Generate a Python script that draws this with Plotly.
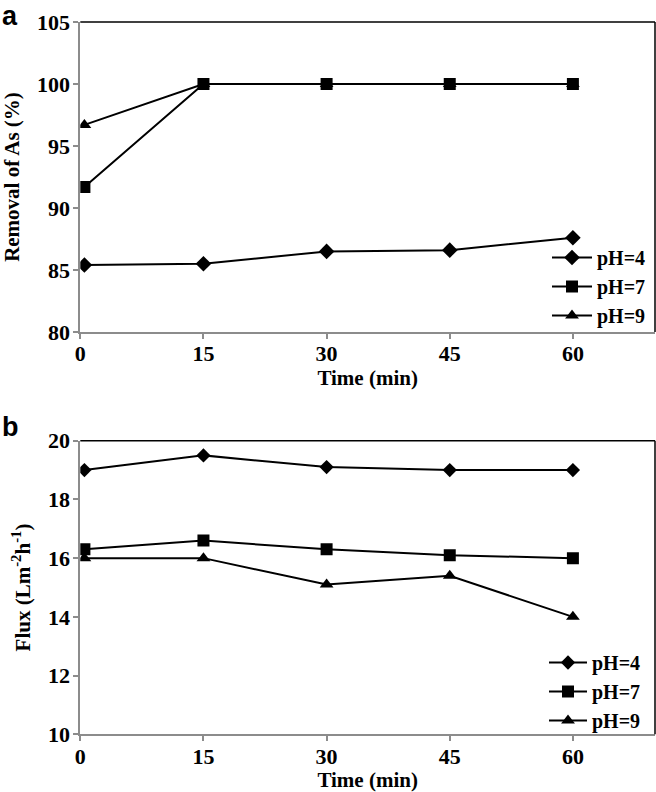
import plotly.graph_objects as go

time = [0.5, 15, 30, 45, 60]
x_ticks = [0, 15, 30, 45, 60]
series_names = ["pH=4", "pH=7", "pH=9"]
symbols = ["diamond", "square", "triangle-up"]

removal_ph4 = [85.4, 85.5, 86.5, 86.6, 87.6]
removal_ph7 = [91.7, 100, 100, 100, 100]
removal_ph9 = [96.7, 100, 100, 100, 100]

flux_ph4 = [19.0, 19.5, 19.1, 19.0, 19.0]
flux_ph7 = [16.3, 16.6, 16.3, 16.1, 16.0]
flux_ph9 = [16.0, 16.0, 15.1, 15.4, 14.0]

SERIF = "Liberation Serif, Times New Roman, serif"
SANS = "Liberation Sans, Arial, sans-serif"
W, H = 656, 792

fig = go.Figure()

sizes_a = [12, 12, 12]
sizes_b = [11, 12, 12]
for name, sym, vals, sz in zip(series_names, symbols, [removal_ph4, removal_ph7, removal_ph9], sizes_a):
    fig.add_trace(go.Scatter(x=time, y=vals, name=name, mode="lines+markers",
                             line=dict(color="black", width=2),
                             marker=dict(symbol=sym, size=sz, color="black"),
                             xaxis="x", yaxis="y", legend="legend"))
for name, sym, vals, sz in zip(series_names, symbols, [flux_ph4, flux_ph7, flux_ph9], sizes_b):
    fig.add_trace(go.Scatter(x=time, y=vals, name=name, mode="lines+markers",
                             line=dict(color="black", width=2),
                             marker=dict(symbol=sym, size=sz, color="black"),
                             xaxis="x2", yaxis="y2", legend="legend2"))

tickfont = dict(family=SERIF, size=22, color="black", weight="bold")
titlefont = dict(family=SERIF, size=21, color="black", weight="bold")
axis_common = dict(showline=True, linecolor="#8c8c8c", linewidth=2, ticks="outside",
                   tickcolor="#8c8c8c", tickwidth=1.5, ticklen=5, showgrid=False,
                   zeroline=False, tickfont=tickfont, mirror=False, automargin=False)
x_common = dict(axis_common, ticklabelstandoff=-4)
y_common = dict(axis_common, ticklabelstandoff=-1)

dom_x = [80.3 / W, 655 / W]
dom_a = [(H - 332) / H, (H - 22) / H]
dom_b = [(H - 734.3) / H, (H - 440.7) / H]

legfont = dict(family=SERIF, size=20, color="black", weight="bold")

fig.update_layout(
    width=W, height=H,
    margin=dict(l=0, r=0, t=0, b=0),
    paper_bgcolor="white", plot_bgcolor="white",
    xaxis=dict(domain=dom_x, anchor="y", range=[0, 70], tickvals=x_ticks,
               title=dict(text="Time (min)", font=titlefont, standoff=4), **x_common),
    yaxis=dict(domain=dom_a, anchor="x", range=[80, 105], tickvals=[80, 85, 90, 95, 100, 105],
               title=dict(text="Removal of As (%)", font=titlefont, standoff=12), **y_common),
    xaxis2=dict(domain=dom_x, anchor="y2", range=[0, 70], tickvals=x_ticks,
                title=dict(text="Time (min)", font=titlefont, standoff=4), **x_common),
    yaxis2=dict(domain=dom_b, anchor="x2", range=[10, 20], tickvals=[10, 12, 14, 16, 18, 20],
                title=dict(text="Flux (Lm<sup>-2</sup>h<sup>-1</sup>)", font=titlefont, standoff=12),
                **y_common),
    legend=dict(x=547 / W, y=(H - 335) / H, xanchor="left", yanchor="bottom",
                font=legfont, bgcolor="rgba(0,0,0,0)", tracegroupgap=0, itemwidth=40),
    legend2=dict(x=544 / W, y=(H - 740) / H, xanchor="left", yanchor="bottom",
                 font=legfont, bgcolor="rgba(0,0,0,0)", tracegroupgap=0, itemwidth=38),
    showlegend=True,
)

# black top/right frame lines
for xr, yr in [("x domain", "y domain"), ("x2 domain", "y2 domain")]:
    fig.add_shape(type="line", xref=xr, yref=yr, x0=0, x1=1, y0=1, y1=1,
                  line=dict(color="black", width=1.5))
    fig.add_shape(type="line", xref=xr, yref=yr, x0=1, x1=1, y0=0, y1=1,
                  line=dict(color="black", width=1.5))

fig.add_annotation(text="a", x=0, y=(H - 16) / H, xref="paper", yref="paper", xanchor="left",
                   yanchor="middle", showarrow=False,
                   font=dict(family=SANS, size=27, color="black", weight="bold"))
fig.add_annotation(text="b", x=0, y=(H - 427) / H, xref="paper", yref="paper", xanchor="left",
                   yanchor="middle", showarrow=False,
                   font=dict(family=SANS, size=27, color="black", weight="bold"))

fig.write_html("out.html", config={"displayModeBar": False},
               post_script="document.body.style.margin='0';document.body.style.overflow='hidden';")
